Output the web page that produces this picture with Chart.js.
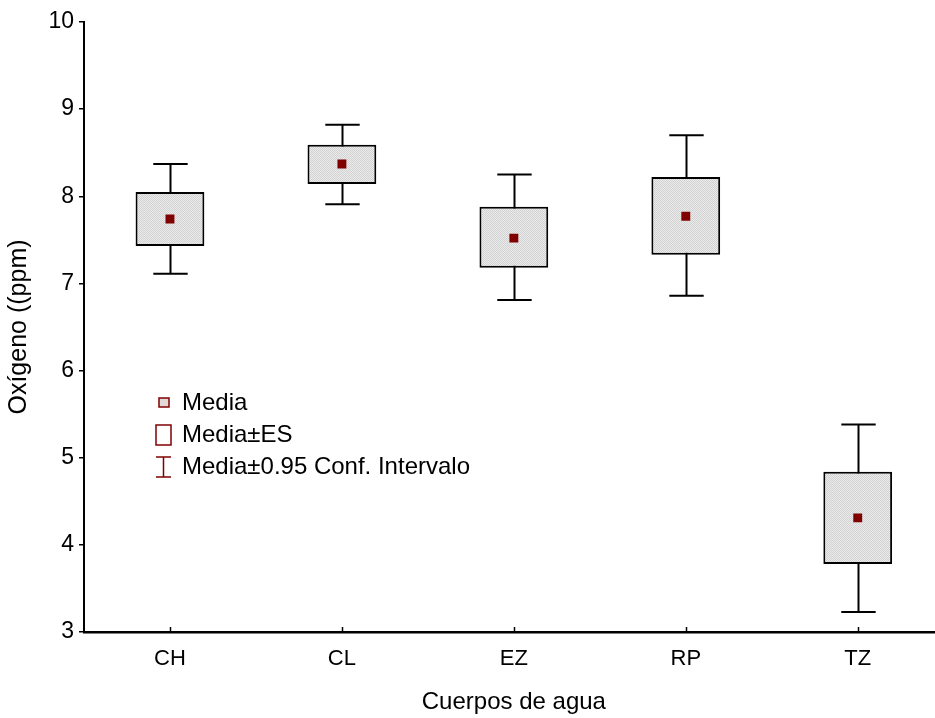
<!DOCTYPE html>
<html>
<head>
<meta charset="utf-8">
<script src="https://cdn.jsdelivr.net/npm/chart.js@4"></script>
<style>
  html, body { margin: 0; padding: 0; background: #fff; overflow: hidden; }
  #wrap { width: 950px; height: 718px; }
</style>
</head>
<body>
<div id="wrap"><canvas id="grafico" width="950" height="718"></canvas></div>
<script>
// Oxígeno disuelto por cuerpo de agua: media, media±ES y media±IC 95%
var cuerpos = ['CH', 'CL', 'EZ', 'RP', 'TZ'];
var media   = [7.74, 8.37, 7.52, 7.77, 4.31];
var esInf   = [7.43, 8.14, 7.18, 7.33, 3.78];
var esSup   = [8.05, 8.59, 7.88, 8.22, 4.84];
var icInf   = [7.11, 7.91, 6.81, 6.86, 3.23];
var icSup   = [8.37, 8.82, 8.25, 8.70, 5.38];
var yTicks  = [3, 4, 5, 6, 7, 8, 9, 10];
var leyenda = ['Media', 'Media±ES', 'Media±0.95 Conf. Intervalo'];

var FUENTE = '"Liberation Sans", Arial, sans-serif';
var ROJO = '#800000';

// relleno punteado gris de las cajas
function trama() {
  var c = document.createElement('canvas');
  c.width = 2; c.height = 2;
  var g = c.getContext('2d');
  g.fillStyle = '#ebebeb'; g.fillRect(0, 0, 2, 2);
  g.fillStyle = '#d2d2d2'; g.fillRect(0, 0, 1, 1); g.fillRect(1, 1, 1, 1);
  return g.createPattern(c, 'repeat');
}

// bigotes del intervalo de confianza, por debajo de las cajas
var bigotes = {
  id: 'bigotes',
  beforeDatasetsDraw: function(chart) {
    var ctx = chart.ctx, x = chart.scales.x, y = chart.scales.y;
    var cajas = chart.getDatasetMeta(1);
    ctx.save();
    ctx.strokeStyle = '#000';
    ctx.lineWidth = 2;
    cuerpos.forEach(function(c, i) {
      var px = Math.round(x.getPixelForValue(i)) + 0.5;
      var medio = cajas.data[i].width / 4;
      var yAlto = y.getPixelForValue(icSup[i]);
      var yBajo = y.getPixelForValue(icInf[i]);
      ctx.beginPath();
      ctx.moveTo(px, yAlto); ctx.lineTo(px, yBajo);
      ctx.moveTo(px - medio, yAlto); ctx.lineTo(px + medio, yAlto);
      ctx.moveTo(px - medio, yBajo); ctx.lineTo(px + medio, yBajo);
      ctx.stroke();
    });
    ctx.restore();
  },
  afterDraw: function(chart) {
    var ctx = chart.ctx, x = chart.scales.x, area = chart.chartArea;
    ctx.save();
    // marcas del eje x hacia adentro
    ctx.strokeStyle = '#000';
    ctx.lineWidth = 1.5;
    cuerpos.forEach(function(c, i) {
      var px = Math.round(x.getPixelForValue(i)) + 0.5;
      ctx.beginPath();
      ctx.moveTo(px, area.bottom);
      ctx.lineTo(px, area.bottom - 5);
      ctx.stroke();
    });

    // leyenda dentro del área
    var x0 = area.left + 74, y0 = 403, paso = 32;
    ctx.strokeStyle = ROJO;
    ctx.lineWidth = 1.5;
    ctx.fillStyle = '#e2d8d8';
    ctx.fillRect(x0 + 1, y0 - 5, 10, 9);
    ctx.strokeRect(x0 + 1, y0 - 5, 10, 9);
    ctx.strokeRect(x0 - 2, y0 + paso - 10, 15, 20);
    var yi = y0 + 2 * paso;
    ctx.beginPath();
    ctx.moveTo(x0 - 2, yi - 10); ctx.lineTo(x0 + 13, yi - 10);
    ctx.moveTo(x0 + 5.5, yi - 10); ctx.lineTo(x0 + 5.5, yi + 10);
    ctx.moveTo(x0 - 2, yi + 10); ctx.lineTo(x0 + 13, yi + 10);
    ctx.stroke();

    ctx.fillStyle = '#000';
    ctx.font = '24px ' + FUENTE;
    ctx.textAlign = 'left';
    ctx.textBaseline = 'middle';
    leyenda.forEach(function(t, i) {
      ctx.fillText(t, x0 + 24, y0 + i * paso);
    });
    ctx.restore();
  }
};

var ctx = document.getElementById('grafico').getContext('2d');
window.grafico = new Chart(ctx, {
  data: {
    labels: cuerpos,
    datasets: [{
      type: 'line',
      label: leyenda[0],
      data: media,
      showLine: false,
      pointStyle: 'rect',
      pointRadius: 6.3,
      pointBackgroundColor: ROJO,
      pointBorderColor: ROJO,
      pointBorderWidth: 0,
      order: 0
    }, {
      type: 'bar',
      label: leyenda[1],
      data: esInf.map(function(v, i) { return [v, esSup[i]]; }),
      backgroundColor: trama(),
      borderColor: '#000',
      borderWidth: 2,
      borderSkipped: false,
      barPercentage: 0.4,
      categoryPercentage: 1,
      order: 1
    }]
  },
  options: {
    responsive: false,
    animation: false,
    layout: { padding: { top: 22, left: 0, right: 0, bottom: 0 } },
    plugins: {
      legend: { display: false },
      tooltip: { enabled: false }
    },
    scales: {
      x: {
        type: 'category',
        offset: true,
        grid: { drawOnChartArea: false, drawTicks: false },
        border: { display: true, color: '#000', width: 2.5 },
        ticks: { color: '#000', font: { family: FUENTE, size: 22 }, padding: 14, maxRotation: 0 },
        title: { display: true, text: 'Cuerpos de agua', color: '#000',
                 font: { family: FUENTE, size: 24 }, padding: { top: 0, bottom: 1 } },
        afterFit: function(s) { s.height = 86; }
      },
      y: {
        min: 3,
        max: 10,
        afterBuildTicks: function(s) { s.ticks = yTicks.map(function(v) { return { value: v }; }); },
        grid: { drawOnChartArea: false, drawTicks: true, tickLength: 5, color: '#000', lineWidth: 1.5 },
        border: { display: true, color: '#000', width: 2 },
        ticks: { color: '#000', font: { family: FUENTE, size: 23 }, padding: 5 },
        title: { display: true, text: 'Oxígeno ((ppm)', color: '#000',
                 font: { family: FUENTE, size: 25 }, padding: { top: 4, bottom: 0 } },
        afterFit: function(s) { s.width = 84; }
      }
    }
  },
  plugins: [bigotes]
});
</script>
</body>
</html>
